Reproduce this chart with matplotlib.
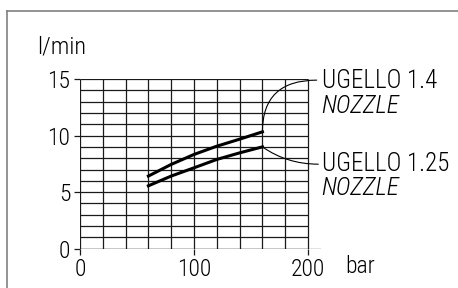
import matplotlib.pyplot as plt
from matplotlib.lines import Line2D

# pressione (bar) e portata (l/min)
pressione = [60, 80, 100, 120, 140, 160]
portata_14 = [6.42, 7.45, 8.33, 9.06, 9.68, 10.33]
portata_125 = [5.56, 6.42, 7.15, 7.89, 8.47, 9.0]

x_ticks = [0, 100, 200]
y_ticks = [0, 5, 10, 15]
x_grid = list(range(0, 201, 20))
y_grid = list(range(0, 16))

plt.rcParams['font.family'] = ['Roboto Condensed', 'DejaVu Sans']
plt.rcParams['font.weight'] = 'light'

fig = plt.figure(figsize=(4.58, 2.88), dpi=100)
ax = fig.add_axes([80 / 458, 1 - 248.7 / 288, 241 / 458, 169.7 / 288])
ax.set_xlim(0, 200 * 241 / 228)
ax.set_ylim(0, 15)
for s in ax.spines.values():
    s.set_visible(False)

# griglia
ax.hlines(y_grid, 0, 200, color='#1a1a1a', lw=0.9, zorder=1)
ax.vlines(x_grid, 0, 15, color='#1a1a1a', lw=0.9, zorder=1)
ax.axhline(0, 0, 1, color='#1a1a1a', lw=0.9, zorder=1)

ax.set_xticks(x_ticks)
ax.set_yticks(y_ticks)
ax.tick_params(axis='both', direction='out', length=4, width=0.9, color='#1a1a1a',
               labelsize=17, pad=3)

# curve
ax.plot(pressione, portata_14, color='black', lw=2.2, zorder=3)
ax.plot(pressione, portata_125, color='black', lw=2.2, zorder=3)

# etichette
ax.text(-37.7, 17.83, 'l/min', fontsize=17.5, va='center', ha='left', clip_on=False)
ax.text(232.5, -0.55, 'bar', fontsize=17, va='top', ha='left', clip_on=False)

ax.text(212, 14.8, 'UGELLO 1.4', fontsize=18, va='center', ha='left', clip_on=False)
ax.text(212, 12.6, 'NOZZLE', fontsize=18, style='italic', va='center', ha='left', clip_on=False)
ax.text(212, 7.47, 'UGELLO 1.25', fontsize=18, va='center', ha='left', clip_on=False)
ax.text(212, 5.36, 'NOZZLE', fontsize=18, style='italic', va='center', ha='left', clip_on=False)

# linee di richiamo
ax.annotate('', xy=(pressione[-1], portata_14[-1]), xytext=(207.6, 14.9),
            arrowprops=dict(arrowstyle='-', lw=0.8, color='black', shrinkA=0, shrinkB=0,
                            connectionstyle='angle3,angleA=0,angleB=90'),
            annotation_clip=False)
ax.annotate('', xy=(pressione[-1], portata_125[-1]), xytext=(209, 7.47),
            arrowprops=dict(arrowstyle='-', lw=0.8, color='black', shrinkA=0, shrinkB=0,
                            connectionstyle='angle3,angleA=0,angleB=-35'),
            annotation_clip=False)

# cornice
fig.add_artist(Line2D([7 / 458, 1], [1 - 10.5 / 288, 1 - 10.5 / 288], color='#808080', lw=1.2))
fig.add_artist(Line2D([7 / 458, 7 / 458], [0, 1 - 10.5 / 288], color='#808080', lw=1.2))

fig.savefig('out.png', dpi=100)
